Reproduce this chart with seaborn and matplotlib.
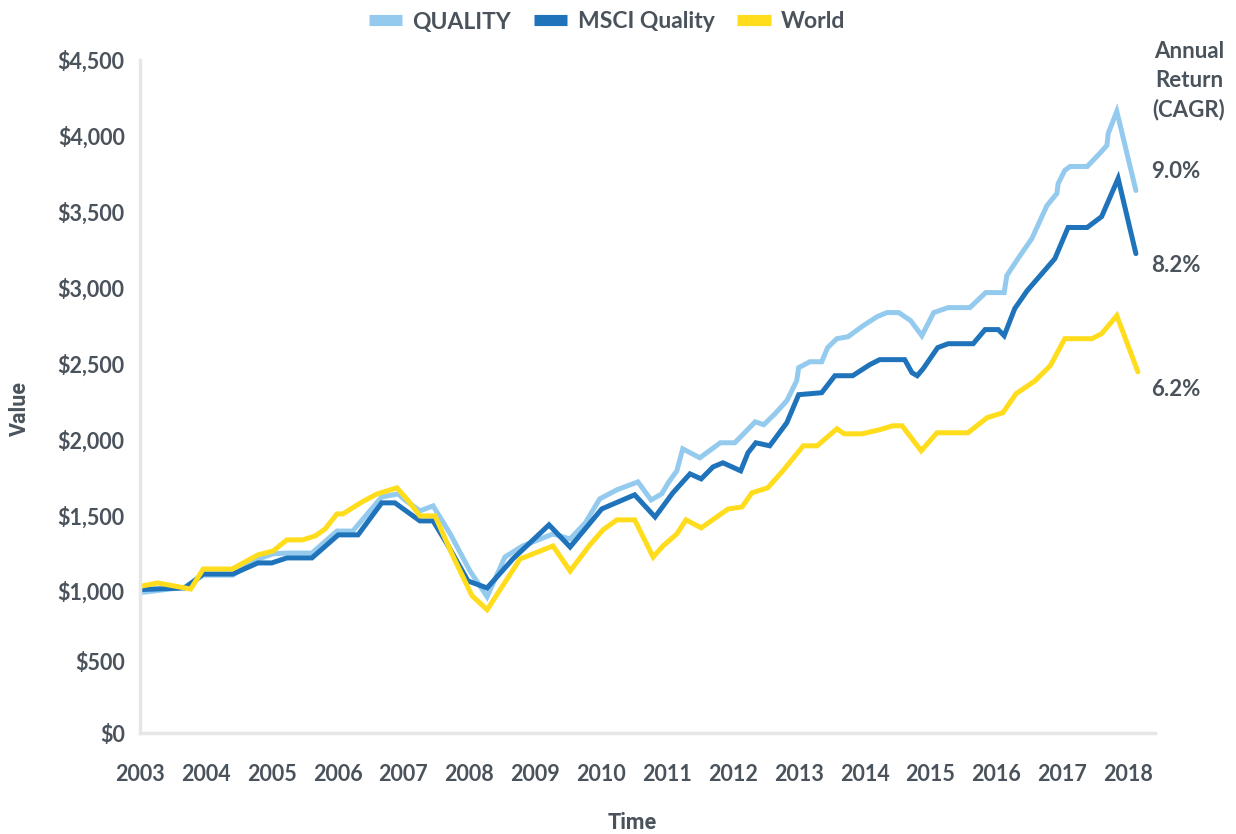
import numpy as np
import pandas as pd
import matplotlib
matplotlib.use("Agg")
import matplotlib.pyplot as plt
from matplotlib.lines import Line2D
from matplotlib.ticker import FuncFormatter, NullLocator
import seaborn as sns

# ---------------- data ----------------
quality_t = [2003.03, 2003.68, 2003.96, 2004.41, 2004.79, 2005.02, 2005.23, 2005.61, 2005.99, 2006.23,
             2006.67, 2006.92, 2007.02, 2007.25, 2007.45, 2007.71, 2008.01, 2008.27, 2008.54, 2008.81,
             2009.27, 2009.53, 2009.76, 2009.98, 2010.24, 2010.56, 2010.76, 2010.92, 2011.02, 2011.15,
             2011.24, 2011.50, 2011.81, 2012.03, 2012.15, 2012.34, 2012.47, 2012.64, 2012.82, 2012.97,
             2013.00, 2013.17, 2013.35, 2013.44, 2013.58, 2013.75, 2013.98, 2014.19, 2014.34, 2014.52,
             2014.70, 2014.87, 2015.05, 2015.27, 2015.60, 2015.84, 2016.12, 2016.16, 2016.33, 2016.54,
             2016.77, 2016.92, 2016.94, 2017.04, 2017.12, 2017.38, 2017.57, 2017.68, 2017.70, 2017.83,
             2018.12]
quality_v = [990, 1025, 1105, 1105, 1210, 1245, 1250, 1250, 1395, 1395,
             1620, 1640, 1600, 1528, 1561, 1376, 1132, 960, 1224, 1297,
             1376, 1343, 1449, 1607, 1667, 1719, 1600, 1640, 1713, 1792,
             1937, 1878, 1977, 1977, 2030, 2115, 2096, 2168, 2254, 2386,
             2472, 2511, 2511, 2604, 2663, 2676, 2749, 2808, 2835, 2835,
             2782, 2683, 2835, 2868, 2868, 2967, 2967, 3079, 3191, 3323,
             3541, 3620, 3686, 3772, 3798, 3798, 3884, 3937, 4016, 4161,
             3640]

msci_t = [2003.03, 2003.68, 2003.96, 2004.41, 2004.79, 2005.00, 2005.23, 2005.61, 2006.01, 2006.31,
          2006.67, 2006.87, 2007.25, 2007.45, 2007.68, 2007.98, 2008.27, 2008.66, 2009.21, 2009.53,
          2010.01, 2010.51, 2010.82, 2011.09, 2011.35, 2011.52, 2011.70, 2011.85, 2012.12, 2012.23,
          2012.35, 2012.56, 2012.82, 2013.00, 2013.35, 2013.55, 2013.82, 2014.08, 2014.23, 2014.61,
          2014.72, 2014.80, 2014.89, 2015.11, 2015.27, 2015.65, 2015.83, 2016.03, 2016.12, 2016.28,
          2016.47, 2016.89, 2017.09, 2017.38, 2017.60, 2017.85, 2018.12]
msci_v = [1010, 1020, 1112, 1112, 1185, 1185, 1218, 1218, 1370, 1370,
          1581, 1581, 1462, 1462, 1297, 1066, 1020, 1211, 1436, 1290,
          1541, 1634, 1488, 1647, 1772, 1739, 1818, 1845, 1792, 1911,
          1977, 1957, 2109, 2294, 2307, 2419, 2419, 2492, 2525, 2525,
          2439, 2419, 2465, 2604, 2630, 2630, 2723, 2723, 2683, 2861,
          2980, 3191, 3396, 3396, 3468, 3719, 3224]

world_t = [2003.03, 2003.27, 2003.77, 2003.96, 2004.40, 2004.79, 2005.02, 2005.23, 2005.47, 2005.66,
           2005.81, 2005.99, 2006.08, 2006.37, 2006.60, 2006.90, 2007.05, 2007.25, 2007.48, 2007.75,
           2008.04, 2008.27, 2008.77, 2009.27, 2009.53, 2009.83, 2010.03, 2010.24, 2010.51, 2010.79,
           2010.94, 2011.15, 2011.29, 2011.52, 2011.93, 2012.14, 2012.29, 2012.53, 2012.76, 2013.07,
           2013.28, 2013.58, 2013.69, 2013.96, 2014.23, 2014.43, 2014.57, 2014.86, 2015.10, 2015.57,
           2015.86, 2016.10, 2016.30, 2016.59, 2016.82, 2017.04, 2017.45, 2017.60, 2017.83, 2018.15]
world_v = [1033, 1053, 1013, 1145, 1145, 1238, 1264, 1337, 1337, 1363,
           1409, 1508, 1508, 1587, 1640, 1680, 1607, 1495, 1495, 1231,
           967, 868, 1211, 1297, 1132, 1304, 1403, 1469, 1469, 1224,
           1297, 1376, 1469, 1416, 1541, 1554, 1647, 1680, 1792, 1957,
           1957, 2069, 2036, 2036, 2063, 2089, 2089, 1924, 2043, 2043,
           2142, 2175, 2300, 2386, 2485, 2663, 2663, 2696, 2815, 2445]

series_names = ["QUALITY", "MSCI Quality", "World"]
series_colors = ["#93CAEE", "#1F73BA", "#FFDC1C"]
cagr_labels = ["9.0%", "8.2%", "6.2%"]
year_ticks = list(range(2003, 2019))
value_ticks = list(range(0, 4501, 500))

# ---------------- build frame ----------------
frames = []
for name, t, v in zip(series_names,
                      [quality_t, msci_t, world_t],
                      [quality_v, msci_v, world_v]):
    frames.append(pd.DataFrame({"Time": t, "Value": v, "Series": name}))
df = pd.concat(frames, ignore_index=True)

# ---------------- style ----------------
sns.set_theme(style="white")
TXT = "#4A535C"
plt.rcParams["font.family"] = ["Lato", "DejaVu Sans"]
plt.rcParams["font.weight"] = "bold"

fig = plt.figure(figsize=(12.36, 8.34), dpi=100)
ax = fig.add_axes([140 / 1236, 1 - 733 / 834, (1155 - 140) / 1236, (733 - 60) / 834])

sns.lineplot(data=df, x="Time", y="Value", hue="Series", hue_order=series_names,
             palette=dict(zip(series_names, series_colors)), estimator=None,
             sort=True, linewidth=3.6, ax=ax, legend=False)
for ln in ax.get_lines():
    ln.set_solid_joinstyle("miter")

# the reference's value axis is slightly compressed below $1,000
_vk = [0, 1000, 4500]
_pk = [0, 142, 673]
ax.set_yscale("function", functions=(lambda v: np.interp(v, _vk, _pk),
                                     lambda p: np.interp(p, _pk, _vk)))
ax.set_xlim(2003, 2018.41)
ax.set_ylim(0, 4500)
ax.set_xticks(year_ticks)
ax.set_xticklabels([str(y) for y in year_ticks])
ax.set_yticks(value_ticks)
ax.yaxis.set_major_formatter(FuncFormatter(lambda v, p: f"${int(round(v)):,}"))
ax.yaxis.set_minor_locator(NullLocator())

for s in ["top", "right"]:
    ax.spines[s].set_visible(False)
for s in ["left", "bottom"]:
    ax.spines[s].set_color("#E6E6E6")
    ax.spines[s].set_linewidth(2.5)

ax.tick_params(axis="y", which="major", direction="out", length=7, width=2,
               color="#E6E6E6", pad=4, labelsize=15.5, labelcolor=TXT)
ax.tick_params(axis="x", which="major", direction="out", length=8, width=2,
               color="#E6E6E6", pad=14, labelsize=15.5, labelcolor=TXT)
for lab in ax.get_xticklabels() + ax.get_yticklabels():
    lab.set_fontweight("bold")

ax.set_xlabel("")
ax.set_ylabel("")
fig.text(632 / 1236, 1 - 823 / 834, "Time", ha="center", va="center",
         fontsize=15.5, fontweight="bold", color=TXT, family=["Roboto", "DejaVu Sans"])
fig.text(20 / 1236, 1 - 408 / 834, "Value", ha="center", va="center", rotation=90,
         fontsize=15.5, fontweight="bold", color=TXT, family=["Roboto", "DejaVu Sans"])

# legend
handles = [Line2D([0], [0], color=c, lw=8, solid_capstyle="butt") for c in series_colors]
fig.legend(handles, series_names, loc="center", bbox_to_anchor=(607 / 1236, 1 - 22 / 834),
           ncol=3, frameon=False, handlelength=1.45, handletextpad=0.45, columnspacing=1.0,
           prop={"size": 16.5, "weight": "bold"}, labelcolor=TXT)

# right annotations
fig.text(1189 / 1236, 1 - 81 / 834, "Annual\nReturn\n(CAGR)", ha="center", va="center",
         fontsize=16, fontweight="bold", color=TXT, linespacing=1.45)
for lab, y in zip(cagr_labels, [172, 265, 389]):
    fig.text(1151 / 1236, 1 - y / 834, lab, ha="left", va="center",
             fontsize=16, fontweight="bold", color=TXT)

fig.savefig("out.png", dpi=100)
